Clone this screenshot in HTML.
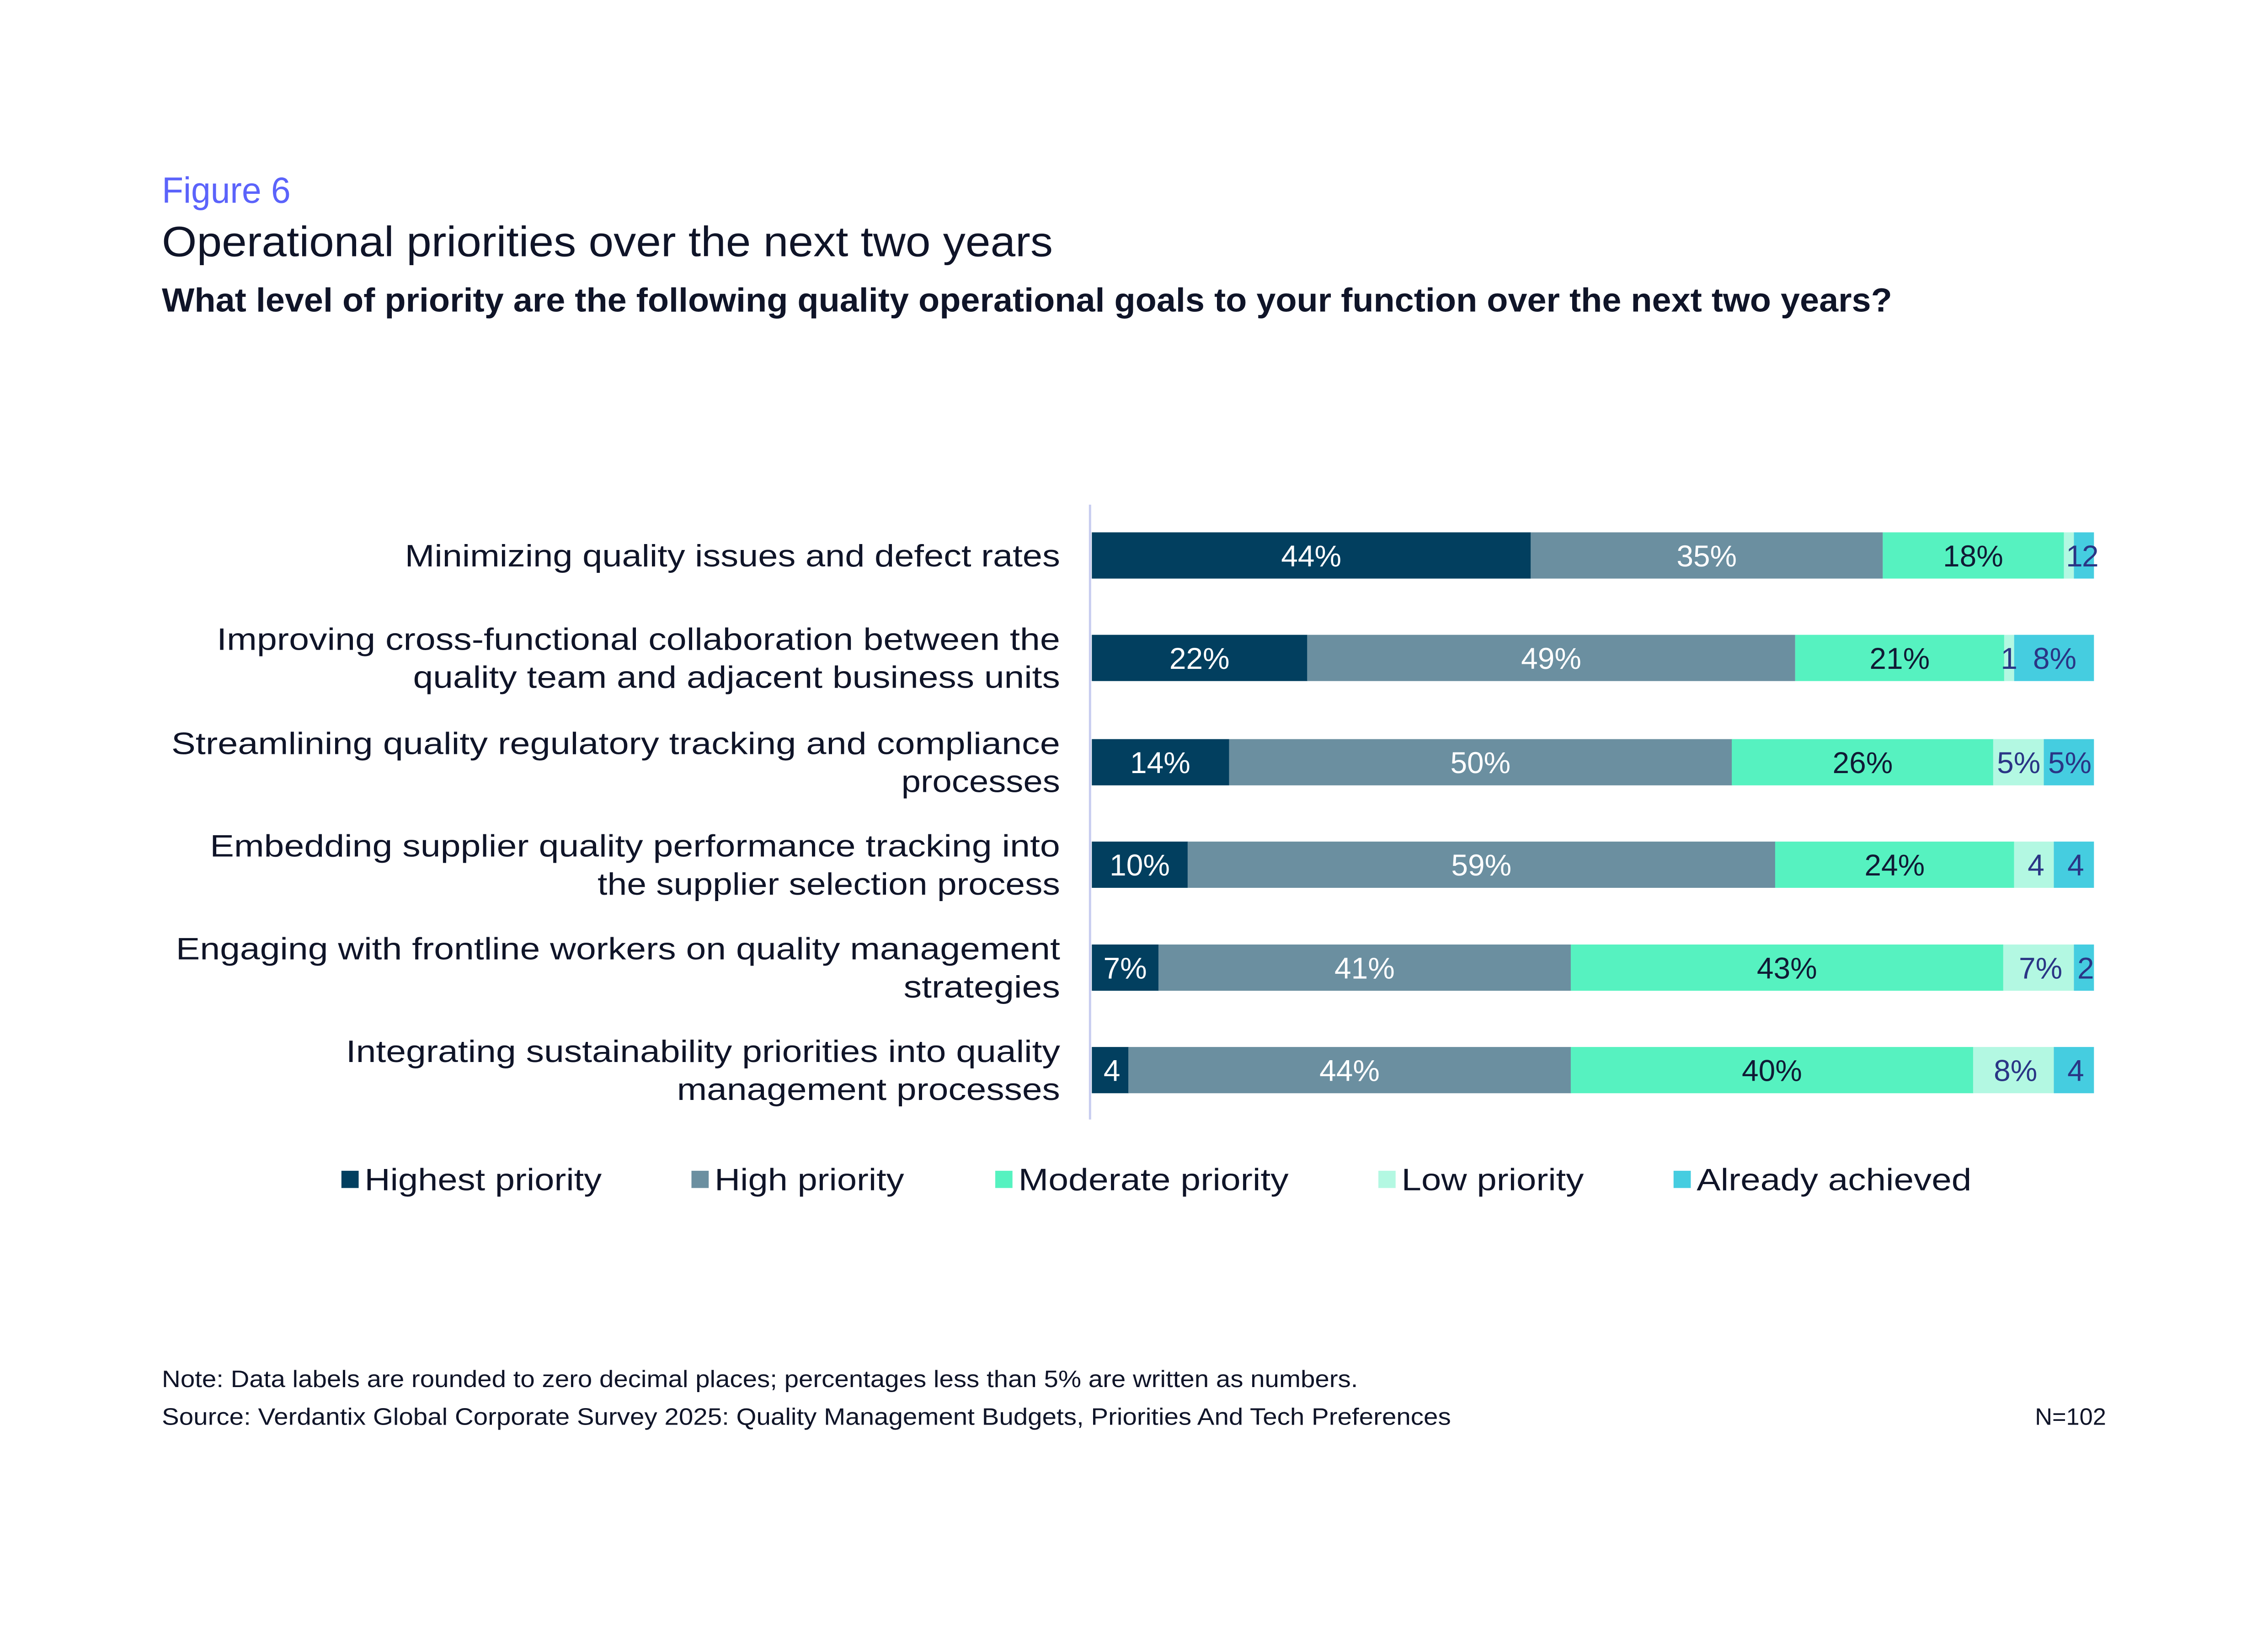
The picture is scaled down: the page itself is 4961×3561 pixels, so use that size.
<!DOCTYPE html>
<html><head><meta charset="utf-8"><style>
html,body{margin:0;padding:0;background:#fff;}
svg{display:block;}
text{font-family:"Liberation Sans",sans-serif;}
</style></head><body>
<svg width="4961" height="3561" viewBox="0 0 4961 3561" xmlns="http://www.w3.org/2000/svg">
<rect width="4961" height="3561" fill="#fff"/>
<g transform="translate(0,6) scale(0.9918)">
<text x="357" y="441" font-size="80" fill="#5b63fb" textLength="284" lengthAdjust="spacingAndGlyphs">Figure 6</text>
<text x="357" y="559" font-size="94" fill="#0f1428" textLength="1965" lengthAdjust="spacingAndGlyphs">Operational priorities over the next two years</text>
<text x="357" y="681" font-size="74" font-weight="bold" fill="#0f1428" textLength="3816" lengthAdjust="spacingAndGlyphs">What level of priority are the following quality operational goals to your function over the next two years?</text>

<line x1="2404" y1="1107" x2="2404" y2="2463" stroke="#c8cdf0" stroke-width="5"/>

<g font-size="68" fill="#0f1428" text-anchor="end">
<text x="2338" y="1243" textLength="1445" lengthAdjust="spacingAndGlyphs">Minimizing quality issues and defect rates</text>
<text x="2338" y="1427" textLength="1860" lengthAdjust="spacingAndGlyphs">Improving cross-functional collaboration between the</text>
<text x="2338" y="1511" textLength="1427" lengthAdjust="spacingAndGlyphs">quality team and adjacent business units</text>
<text x="2338" y="1657" textLength="1960" lengthAdjust="spacingAndGlyphs">Streamlining quality regulatory tracking and compliance</text>
<text x="2338" y="1741" textLength="350" lengthAdjust="spacingAndGlyphs">processes</text>
<text x="2338" y="1883" textLength="1875" lengthAdjust="spacingAndGlyphs">Embedding supplier quality performance tracking into</text>
<text x="2338" y="1967" textLength="1020" lengthAdjust="spacingAndGlyphs">the supplier selection process</text>
<text x="2338" y="2110" textLength="1950" lengthAdjust="spacingAndGlyphs">Engaging with frontline workers on quality management</text>
<text x="2338" y="2194" textLength="345" lengthAdjust="spacingAndGlyphs">strategies</text>
<text x="2338" y="2336" textLength="1575" lengthAdjust="spacingAndGlyphs">Integrating sustainability priorities into quality</text>
<text x="2338" y="2420" textLength="845" lengthAdjust="spacingAndGlyphs">management processes</text>
</g>

<g transform="translate(2408,0) scale(1.006,1) translate(-2408,0)">
<g>
<rect x="2408" y="1168" width="963" height="102" fill="#023f5f"/>
<rect x="3370" y="1168" width="772" height="102" fill="#6b8fa0"/>
<rect x="4142" y="1168" width="397" height="102" fill="#56f2c0"/>
<rect x="4539" y="1168" width="22" height="102" fill="#b3f8e2"/>
<rect x="4561" y="1168" width="44" height="102" fill="#45cde0"/>
</g>
<g>
<rect x="2408" y="1394" width="473" height="102" fill="#023f5f"/>
<rect x="2880" y="1394" width="1070" height="102" fill="#6b8fa0"/>
<rect x="3950" y="1394" width="459" height="102" fill="#56f2c0"/>
<rect x="4408" y="1394" width="22" height="102" fill="#b3f8e2"/>
<rect x="4430" y="1394" width="175" height="102" fill="#45cde0"/>
</g>
<g>
<rect x="2408" y="1624" width="301" height="102" fill="#023f5f"/>
<rect x="2709" y="1624" width="1103" height="102" fill="#6b8fa0"/>
<rect x="3811" y="1624" width="574" height="102" fill="#56f2c0"/>
<rect x="4384" y="1624" width="111" height="102" fill="#b3f8e2"/>
<rect x="4495" y="1624" width="110" height="102" fill="#45cde0"/>
</g>
<g>
<rect x="2408" y="1850" width="211" height="102" fill="#023f5f"/>
<rect x="2618" y="1850" width="1289" height="102" fill="#6b8fa0"/>
<rect x="3906" y="1850" width="524" height="102" fill="#56f2c0"/>
<rect x="4430" y="1850" width="88" height="102" fill="#b3f8e2"/>
<rect x="4517" y="1850" width="88" height="102" fill="#45cde0"/>
</g>
<g>
<rect x="2408" y="2077" width="147" height="102" fill="#023f5f"/>
<rect x="2554" y="2077" width="905" height="102" fill="#6b8fa0"/>
<rect x="3458" y="2077" width="949" height="102" fill="#56f2c0"/>
<rect x="4406" y="2077" width="155" height="102" fill="#b3f8e2"/>
<rect x="4561" y="2077" width="44" height="102" fill="#45cde0"/>
</g>
<g>
<rect x="2408" y="2303" width="81" height="102" fill="#023f5f"/>
<rect x="2488" y="2303" width="971" height="102" fill="#6b8fa0"/>
<rect x="3458" y="2303" width="883" height="102" fill="#56f2c0"/>
<rect x="4340" y="2303" width="177" height="102" fill="#b3f8e2"/>
<rect x="4517" y="2303" width="88" height="102" fill="#45cde0"/>
</g>

<g font-size="66" text-anchor="middle">
<g fill="#ffffff">
<text x="2889" y="1243">44%</text><text x="3756" y="1243">35%</text>
<text x="2644" y="1469">22%</text><text x="3415" y="1469">49%</text>
<text x="2558" y="1699">14%</text><text x="3260" y="1699">50%</text>
<text x="2513" y="1925">10%</text><text x="3262" y="1925">59%</text>
<text x="2481" y="2152">7%</text><text x="3006" y="2152">41%</text>
<text x="2452" y="2378">4</text><text x="2973" y="2378">44%</text>
</g>
<g fill="#101a35">
<text x="4340" y="1243">18%</text><text x="4179" y="1469">21%</text>
<text x="4098" y="1699">26%</text><text x="4168" y="1925">24%</text>
<text x="3932" y="2152">43%</text><text x="3899" y="2378">40%</text>
</g>
<g fill="#2a3585">
<text x="4562" y="1243">1</text><text x="4597" y="1243">2</text>
<text x="4419" y="1469">1</text><text x="4519" y="1469">8%</text>
<text x="4440" y="1699">5%</text><text x="4552" y="1699">5%</text>
<text x="4478" y="1925">4</text><text x="4565" y="1925">4</text>
<text x="4488" y="2152">7%</text><text x="4587" y="2152">2</text>
<text x="4433" y="2378">8%</text><text x="4565" y="2378">4</text>
</g>
</g>
</g>

<g font-size="68" fill="#0f1428">
<rect x="753" y="2576" width="38" height="38" fill="#023f5f"/>
<text x="804" y="2619" textLength="523" lengthAdjust="spacingAndGlyphs">Highest priority</text>
<rect x="1525" y="2576" width="38" height="38" fill="#6b8fa0"/>
<text x="1576" y="2619" textLength="418" lengthAdjust="spacingAndGlyphs">High priority</text>
<rect x="2195" y="2576" width="38" height="38" fill="#56f2c0"/>
<text x="2246" y="2619" textLength="596" lengthAdjust="spacingAndGlyphs">Moderate priority</text>
<rect x="3040" y="2576" width="38" height="38" fill="#b3f8e2"/>
<text x="3091" y="2619" textLength="402" lengthAdjust="spacingAndGlyphs">Low priority</text>
<rect x="3691" y="2576" width="38" height="38" fill="#45cde0"/>
<text x="3742" y="2619" textLength="606" lengthAdjust="spacingAndGlyphs">Already achieved</text>
</g>

<g font-size="52" fill="#0f1428">
<text x="357" y="3053" textLength="2638" lengthAdjust="spacingAndGlyphs">Note: Data labels are rounded to zero decimal places; percentages less than 5% are written as numbers.</text>
<text x="357" y="3136" textLength="2843" lengthAdjust="spacingAndGlyphs">Source: Verdantix Global Corporate Survey 2025: Quality Management Budgets, Priorities And Tech Preferences</text>
<text x="4645" y="3136" text-anchor="end" textLength="157" lengthAdjust="spacingAndGlyphs">N=102</text>
</g>
</g>
</svg>
</body></html>
